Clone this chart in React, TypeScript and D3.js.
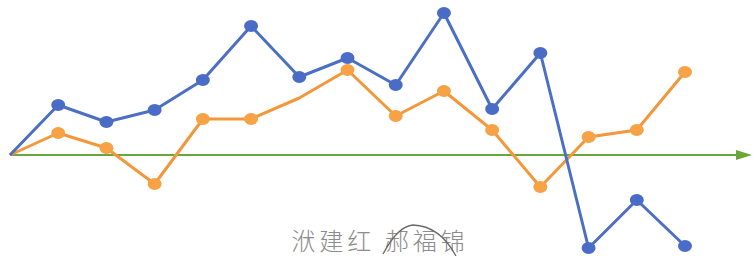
import React from "react";
import * as d3 from "d3";

const indices = d3.range(15);
const blueValues = [0, 50, 33, 45, 75, 129, 78, 97, 70, 142, 46, 102, -93, -45, -91];
const orangeValues = [0, 22, 7, -29, 36, 36, 57, 85, 39, 64, 25, -32, 18, 25, 83];
const orangeNoMarker = [6];
const caption = "洑建红 郝福锦";

const W = 753;
const H = 256;

export default function App() {
  const x = d3.scalePoint<number>().domain(indices).range([10, 685]);
  const y = d3.scaleLinear().domain([-101, 155]).range([256, 0]);
  const line = d3
    .line<number>()
    .x((_, i) => x(i)!)
    .y((d) => y(d));
  const y0 = y(0);
  return (
    <svg
      width={W}
      height={H}
      style={{ position: "absolute", left: 0, top: 0, background: "#fff" }}
    >
      <line x1={10} x2={738} y1={y0} y2={y0} stroke="#6aa63a" strokeWidth={2} />
      <path d={`M736,${y0 - 5} L752,${y0} L736,${y0 + 5} Z`} fill="#6aa63a" />
      <path d={line(orangeValues)!} fill="none" stroke="#f4973a" strokeWidth={3} strokeLinejoin="round" />
      {orangeValues.map((v, i) =>
        orangeNoMarker.includes(i) || i === 0 ? null : (
          <ellipse key={"o" + i} cx={x(i)} cy={y(v)} rx={7} ry={6} fill="#f6a245" />
        )
      )}
      <path d={line(blueValues)!} fill="none" stroke="#4c6fc6" strokeWidth={3} strokeLinejoin="round" />
      {blueValues.map((v, i) =>
        i === 0 ? null : (
          <ellipse key={"b" + i} cx={x(i)} cy={y(v)} rx={7} ry={6} fill="#4a6cc7" />
        )
      )}
      <text
        x={380}
        y={250}
        textAnchor="middle"
        fontFamily="'Noto Sans CJK SC'"
        fontWeight={300}
        fontSize={24}
        letterSpacing={4}
        fill="#8c8c8c"
      >
        {caption}
      </text>
      <path d="M383,254 Q398,226 413,225 Q440,226 456,256" fill="none" stroke="#6a6a6a" strokeWidth={1.3} />
    </svg>
  );
}
